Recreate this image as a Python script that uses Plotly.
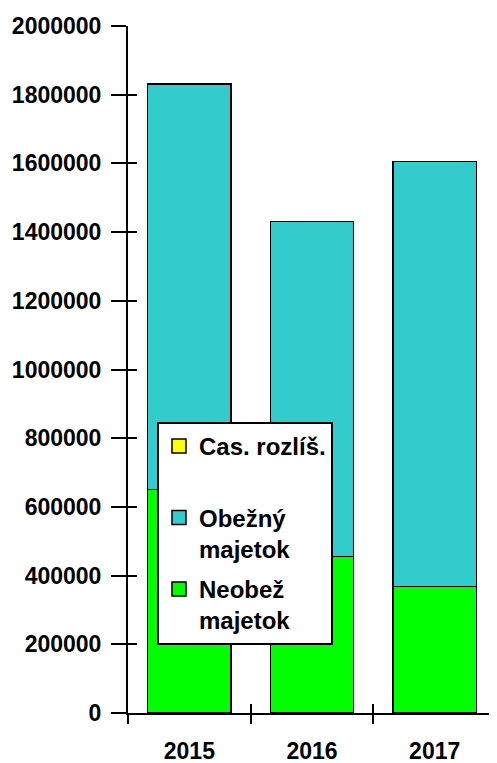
import plotly.graph_objects as go

years = ["2015", "2016", "2017"]
neobez = [650000, 456000, 369000]
obezny = [1181000, 975000, 1236000]
cas_rozlis = [0, 0, 0]

series_names = ["Neobež<br>majetok", "Obežný<br>majetok", "Cas. rozlíš.<br> "]
series_colors = ["#00FF00", "#33CCCC", "#FFFF00"]
legend_ranks = [3, 2, 1]
y_ticks = [0, 200000, 400000, 600000, 800000, 1000000, 1200000, 1400000, 1600000, 1800000, 2000000]

FONT = "Liberation Sans, Arial, sans-serif"

fig = go.Figure()
for name, vals, col, rank in zip(series_names, [neobez, obezny, cas_rozlis],
                                 series_colors, legend_ranks):
    fig.add_trace(go.Bar(
        x=years, y=vals, name=name, showlegend=False, legendgroup=name,
        legendrank=rank,
        marker=dict(color=col, line=dict(color="black", width=1.5)),
    ))
    # legend entry with a larger square swatch
    fig.add_trace(go.Scatter(
        x=[None], y=[None], mode="markers", name=name, legendgroup=name,
        legendrank=rank,
        marker=dict(symbol="square", size=14, color=col,
                    line=dict(color="black", width=1.5)),
        hoverinfo="skip",
    ))

# overlay axes to make ticks cross the axis lines
fig.add_trace(go.Scatter(x=[None], y=[None], xaxis="x2", yaxis="y2",
                         showlegend=False, hoverinfo="skip"))

# the page body has an 8px margin, so the figure is 8px smaller than the window
fig.update_layout(
    width=489, height=755,
    margin=dict(l=120, r=1, t=18, b=50, autoexpand=False),
    barmode="stack", bargap=0.32,
    paper_bgcolor="white", plot_bgcolor="white",
    font=dict(family=FONT, size=23, color="black", weight="bold"),
    showlegend=True,
    legend=dict(
        x=0.0788, y=0.4236, xanchor="left", yanchor="top",
        traceorder="grouped", tracegroupgap=6,
        valign="top",
        bgcolor="white", bordercolor="black", borderwidth=2,
        font=dict(family=FONT, size=24, color="black", weight="bold"),
        itemsizing="trace",
    ),
    xaxis=dict(
        type="category", tickson="boundaries", automargin=False,
        ticks="outside", ticklen=9, tickwidth=2, tickcolor="black",
        showline=True, linecolor="black", linewidth=2,
        showgrid=False, zeroline=False,
        tickfont=dict(size=23),
        ticklabelstandoff=16,
    ),
    yaxis=dict(
        range=[0, 2000000], tickvals=y_ticks, tickformat="d", automargin=False,
        ticks="outside", ticklen=15, tickwidth=2, tickcolor="black",
        showline=True, linecolor="black", linewidth=2,
        showgrid=False, zeroline=False,
        tickfont=dict(size=23),
        ticklabelstandoff=5,
    ),
    xaxis2=dict(
        overlaying="x", anchor="y2", range=[-0.5, 2.5], automargin=False,
        tickvals=[-0.5, 0.5, 1.5, 2.5], ticks="inside", ticklen=9,
        tickwidth=2, tickcolor="black", showticklabels=False,
        showline=False, showgrid=False, zeroline=False,
    ),
    yaxis2=dict(
        overlaying="y", anchor="x2", range=[0, 2000000], tickvals=y_ticks,
        automargin=False,
        ticks="inside", ticklen=9, tickwidth=2, tickcolor="black",
        showticklabels=False, showline=False, showgrid=False, zeroline=False,
    ),
)

fig.write_html("out.html")
